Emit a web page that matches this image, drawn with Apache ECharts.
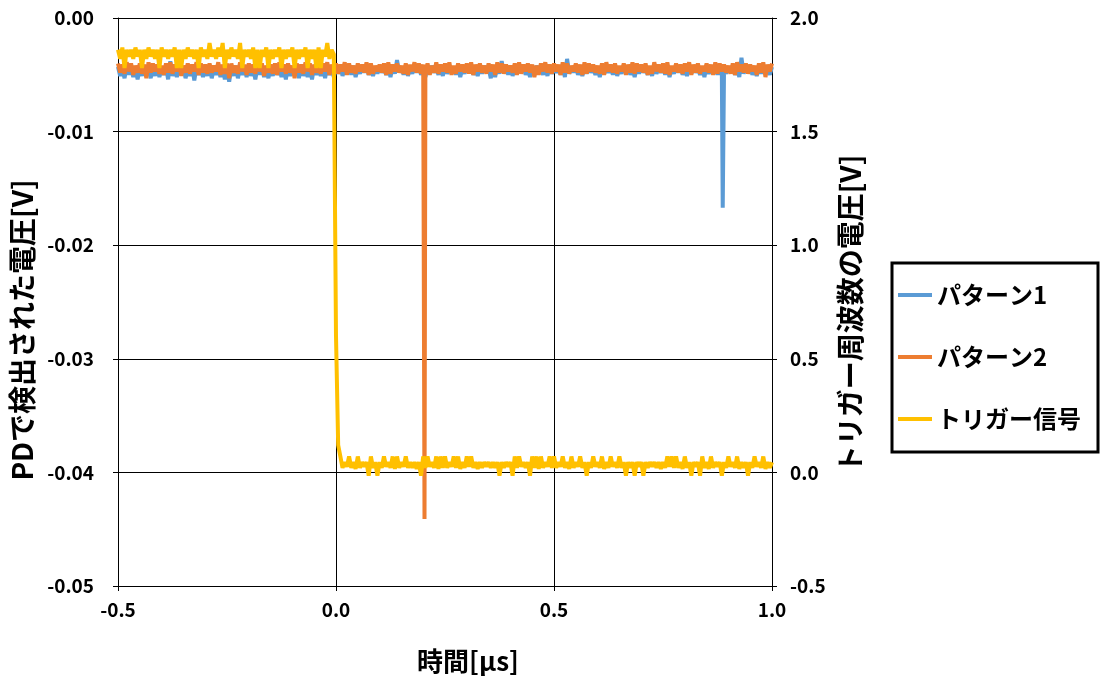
<!DOCTYPE html>
<html>
<head>
<meta charset="utf-8">
<script src="https://cdn.jsdelivr.net/npm/echarts@6/dist/echarts.min.js"></script>
<style>
html,body{margin:0;padding:0;background:#fff;}
#chart{width:1100px;height:682px;}
</style>
</head>
<body>
<div id="chart"></div>
<script>
// ---- data (time in µs) ----
// samples on the 0.01 µs grid (upper edge of the noise band)
const times = [
-0.50,-0.49,-0.48,-0.47,-0.46,-0.45,-0.44,-0.43,-0.42,-0.41,
-0.40,-0.39,-0.38,-0.37,-0.36,-0.35,-0.34,-0.33,-0.32,-0.31,
-0.30,-0.29,-0.28,-0.27,-0.26,-0.25,-0.24,-0.23,-0.22,-0.21,
-0.20,-0.19,-0.18,-0.17,-0.16,-0.15,-0.14,-0.13,-0.12,-0.11,
-0.10,-0.09,-0.08,-0.07,-0.06,-0.05,-0.04,-0.03,-0.02,-0.01,
0.00,0.01,0.02,0.03,0.04,0.05,0.06,0.07,0.08,0.09,
0.10,0.11,0.12,0.13,0.14,0.15,0.16,0.17,0.18,0.19,
0.20,0.21,0.22,0.23,0.24,0.25,0.26,0.27,0.28,0.29,
0.30,0.31,0.32,0.33,0.34,0.35,0.36,0.37,0.38,0.39,
0.40,0.41,0.42,0.43,0.44,0.45,0.46,0.47,0.48,0.49,
0.50,0.51,0.52,0.53,0.54,0.55,0.56,0.57,0.58,0.59,
0.60,0.61,0.62,0.63,0.64,0.65,0.66,0.67,0.68,0.69,
0.70,0.71,0.72,0.73,0.74,0.75,0.76,0.77,0.78,0.79,
0.80,0.81,0.82,0.83,0.84,0.85,0.86,0.87,0.88,0.89,
0.90,0.91,0.92,0.93,0.94,0.95,0.96,0.97,0.98,0.99,
1.00];
// samples half-way between them (lower edge of the noise band)
const timesMid = [
-0.495,-0.485,-0.475,-0.465,-0.455,-0.445,-0.435,-0.425,-0.415,-0.405,
-0.395,-0.385,-0.375,-0.365,-0.355,-0.345,-0.335,-0.325,-0.315,-0.305,
-0.295,-0.285,-0.275,-0.265,-0.255,-0.245,-0.235,-0.225,-0.215,-0.205,
-0.195,-0.185,-0.175,-0.165,-0.155,-0.145,-0.135,-0.125,-0.115,-0.105,
-0.095,-0.085,-0.075,-0.065,-0.055,-0.045,-0.035,-0.025,-0.015,-0.005,
0.005,0.015,0.025,0.035,0.045,0.055,0.065,0.075,0.085,0.095,
0.105,0.115,0.125,0.135,0.145,0.155,0.165,0.175,0.185,0.195,
0.205,0.215,0.225,0.235,0.245,0.255,0.265,0.275,0.285,0.295,
0.305,0.315,0.325,0.335,0.345,0.355,0.365,0.375,0.385,0.395,
0.405,0.415,0.425,0.435,0.445,0.455,0.465,0.475,0.485,0.495,
0.505,0.515,0.525,0.535,0.545,0.555,0.565,0.575,0.585,0.595,
0.605,0.615,0.625,0.635,0.645,0.655,0.665,0.675,0.685,0.695,
0.705,0.715,0.725,0.735,0.745,0.755,0.765,0.775,0.785,0.795,
0.805,0.815,0.825,0.835,0.845,0.855,0.865,0.875,0.885,0.895,
0.905,0.915,0.925,0.935,0.945,0.955,0.965,0.975,0.985,0.995];

// パターン1 (left axis, V)
const pattern1 = [
-0.0043,-0.0044,-0.0042,-0.0043,-0.0044,-0.0043,-0.0042,-0.0044,-0.0043,-0.0042,
-0.0044,-0.0043,-0.0038,-0.0044,-0.0042,-0.0043,-0.0044,-0.0042,-0.0043,-0.0044,
-0.0043,-0.0042,-0.0044,-0.0043,-0.0042,-0.0044,-0.0043,-0.0042,-0.0044,-0.0043,
-0.0042,-0.0044,-0.0043,-0.0042,-0.0044,-0.0043,-0.0042,-0.0044,-0.0043,-0.0042,
-0.0044,-0.0043,-0.0042,-0.0044,-0.0043,-0.0042,-0.0044,-0.0043,-0.0042,-0.0044,
-0.0043,-0.0042,-0.0044,-0.0043,-0.0042,-0.0044,-0.0043,-0.0042,-0.0044,-0.0043,
-0.0042,-0.0044,-0.0043,-0.0042,-0.0037,-0.0043,-0.0042,-0.0044,-0.0043,-0.0042,
-0.0044,-0.0043,-0.0042,-0.0044,-0.0043,-0.0042,-0.0044,-0.0043,-0.0042,-0.0044,
-0.0043,-0.0042,-0.0044,-0.0043,-0.0042,-0.0044,-0.0043,-0.0042,-0.0038,-0.0043,
-0.0042,-0.0044,-0.0043,-0.0042,-0.0044,-0.0043,-0.0042,-0.0044,-0.0043,-0.0042,
-0.0044,-0.0043,-0.0042,-0.0036,-0.0043,-0.0042,-0.0044,-0.0043,-0.0042,-0.0044,
-0.0043,-0.0042,-0.0044,-0.0043,-0.0042,-0.0044,-0.0043,-0.0042,-0.0044,-0.0043,
-0.0042,-0.0044,-0.0043,-0.0042,-0.0044,-0.0043,-0.0042,-0.0044,-0.0043,-0.0042,
-0.0044,-0.0043,-0.0042,-0.0044,-0.0043,-0.0042,-0.0044,-0.0043,-0.0042,-0.0044,
-0.0043,-0.0042,-0.0044,-0.0035,-0.0043,-0.0042,-0.0044,-0.0043,-0.0042,-0.0044,
-0.0043];
const pattern1Mid = [
-0.0051,-0.0053,-0.0050,-0.0052,-0.0054,-0.0051,-0.0050,-0.0053,-0.0051,-0.0052,
-0.0050,-0.0054,-0.0051,-0.0052,-0.0050,-0.0053,-0.0051,-0.0055,-0.0050,-0.0052,
-0.0051,-0.0053,-0.0050,-0.0052,-0.0054,-0.0056,-0.0051,-0.0053,-0.0050,-0.0052,
-0.0051,-0.0054,-0.0050,-0.0052,-0.0053,-0.0051,-0.0050,-0.0052,-0.0054,-0.0051,
-0.0050,-0.0053,-0.0051,-0.0052,-0.0054,-0.0050,-0.0051,-0.0053,-0.0050,-0.0052,
-0.0049,-0.0051,-0.0048,-0.0050,-0.0052,-0.0049,-0.0048,-0.0050,-0.0051,-0.0049,
-0.0048,-0.0050,-0.0052,-0.0049,-0.0048,-0.0050,-0.0051,-0.0049,-0.0048,-0.0050,
-0.0052,-0.0049,-0.0048,-0.0050,-0.0051,-0.0049,-0.0048,-0.0050,-0.0052,-0.0049,
-0.0048,-0.0050,-0.0051,-0.0049,-0.0048,-0.0053,-0.0052,-0.0049,-0.0048,-0.0050,
-0.0051,-0.0049,-0.0048,-0.0050,-0.0052,-0.0049,-0.0048,-0.0050,-0.0051,-0.0049,
-0.0048,-0.0050,-0.0052,-0.0049,-0.0048,-0.0050,-0.0051,-0.0049,-0.0048,-0.0050,
-0.0052,-0.0049,-0.0048,-0.0050,-0.0051,-0.0049,-0.0048,-0.0050,-0.0052,-0.0049,
-0.0048,-0.0050,-0.0051,-0.0049,-0.0048,-0.0050,-0.0052,-0.0049,-0.0048,-0.0050,
-0.0051,-0.0049,-0.0048,-0.0050,-0.0052,-0.0049,-0.0048,-0.0050,-0.0051,-0.0049,
-0.0048,-0.0050,-0.0052,-0.0049,-0.0048,-0.0050,-0.0051,-0.0049,-0.0048,-0.0050];
const pattern1DipTimes = [0.887];
const pattern1DipValues = [-0.0167];

// パターン2 (left axis, V)
const pattern2 = [
-0.0040,-0.0041,-0.0039,-0.0040,-0.0042,-0.0040,-0.0041,-0.0039,-0.0040,-0.0041,
-0.0042,-0.0040,-0.0039,-0.0041,-0.0040,-0.0042,-0.0040,-0.0041,-0.0039,-0.0040,
-0.0041,-0.0040,-0.0042,-0.0039,-0.0041,-0.0040,-0.0040,-0.0042,-0.0039,-0.0041,
-0.0040,-0.0041,-0.0039,-0.0040,-0.0042,-0.0041,-0.0040,-0.0039,-0.0041,-0.0040,
-0.0042,-0.0040,-0.0041,-0.0039,-0.0040,-0.0041,-0.0042,-0.0040,-0.0039,-0.0041,
-0.0040,-0.0041,-0.0039,-0.0040,-0.0042,-0.0040,-0.0041,-0.0039,-0.0040,-0.0042,
-0.0041,-0.0040,-0.0039,-0.0041,-0.0040,-0.0042,-0.0040,-0.0041,-0.0039,-0.0040,
-0.0041,-0.0040,-0.0042,-0.0039,-0.0041,-0.0040,-0.0039,-0.0042,-0.0040,-0.0041,
-0.0040,-0.0039,-0.0041,-0.0040,-0.0042,-0.0040,-0.0041,-0.0039,-0.0040,-0.0041,
-0.0042,-0.0040,-0.0039,-0.0041,-0.0040,-0.0041,-0.0042,-0.0040,-0.0039,-0.0041,
-0.0040,-0.0041,-0.0039,-0.0040,-0.0042,-0.0040,-0.0041,-0.0039,-0.0040,-0.0041,
-0.0042,-0.0040,-0.0039,-0.0041,-0.0040,-0.0042,-0.0040,-0.0041,-0.0039,-0.0040,
-0.0041,-0.0040,-0.0042,-0.0039,-0.0041,-0.0040,-0.0039,-0.0042,-0.0040,-0.0041,
-0.0040,-0.0039,-0.0041,-0.0040,-0.0042,-0.0040,-0.0041,-0.0039,-0.0040,-0.0041,
-0.0042,-0.0040,-0.0039,-0.0041,-0.0040,-0.0041,-0.0042,-0.0040,-0.0039,-0.0041,
-0.0040];
const pattern2Mid = [
-0.0048,-0.0049,-0.0047,-0.0050,-0.0048,-0.0049,-0.0053,-0.0048,-0.0047,-0.0049,
-0.0050,-0.0048,-0.0049,-0.0047,-0.0051,-0.0048,-0.0049,-0.0047,-0.0050,-0.0048,
-0.0049,-0.0048,-0.0047,-0.0050,-0.0049,-0.0053,-0.0048,-0.0049,-0.0047,-0.0050,
-0.0048,-0.0049,-0.0047,-0.0051,-0.0048,-0.0049,-0.0050,-0.0047,-0.0049,-0.0048,
-0.0053,-0.0048,-0.0049,-0.0047,-0.0050,-0.0048,-0.0049,-0.0047,-0.0050,-0.0048,
-0.0049,-0.0047,-0.0050,-0.0048,-0.0049,-0.0047,-0.0048,-0.0050,-0.0049,-0.0047,
-0.0048,-0.0050,-0.0049,-0.0047,-0.0048,-0.0049,-0.0050,-0.0047,-0.0048,-0.0049,
-0.0047,-0.0050,-0.0048,-0.0049,-0.0047,-0.0048,-0.0050,-0.0049,-0.0047,-0.0048,
-0.0049,-0.0050,-0.0047,-0.0048,-0.0049,-0.0047,-0.0050,-0.0048,-0.0049,-0.0047,
-0.0048,-0.0050,-0.0049,-0.0047,-0.0048,-0.0052,-0.0050,-0.0047,-0.0048,-0.0049,
-0.0047,-0.0050,-0.0048,-0.0049,-0.0047,-0.0048,-0.0050,-0.0049,-0.0047,-0.0048,
-0.0049,-0.0050,-0.0047,-0.0048,-0.0049,-0.0047,-0.0050,-0.0048,-0.0049,-0.0047,
-0.0048,-0.0050,-0.0049,-0.0047,-0.0048,-0.0049,-0.0050,-0.0047,-0.0048,-0.0049,
-0.0047,-0.0050,-0.0048,-0.0049,-0.0047,-0.0048,-0.0050,-0.0049,-0.0047,-0.0048,
-0.0049,-0.0050,-0.0047,-0.0048,-0.0049,-0.0047,-0.0050,-0.0048,-0.0052,-0.0047];
const pattern2DipTimes = [0.203];
const pattern2DipValues = [-0.0441];

// トリガー信号 (right axis, V)
const trigger = [
1.86,1.87,1.86,1.86,1.87,1.86,1.86,1.87,1.86,1.86,
1.87,1.86,1.86,1.87,1.86,1.86,1.87,1.86,1.86,1.87,
1.86,1.89,1.86,1.87,1.89,1.86,1.87,1.86,1.89,1.86,
1.86,1.87,1.86,1.86,1.87,1.86,1.86,1.87,1.86,1.86,
1.87,1.86,1.86,1.87,1.86,1.86,1.87,1.86,1.89,1.86,
0.60,0.07,0.045,0.07,0.045,0.07,0.045,0.045,0.07,0.045,
0.045,0.07,0.045,0.07,0.07,0.045,0.07,0.045,0.045,0.045,
0.07,0.07,0.045,0.07,0.07,0.07,0.045,0.07,0.07,0.045,
0.07,0.07,0.045,0.045,0.045,0.045,0.045,0.045,0.045,0.045,
0.045,0.07,0.07,0.045,0.045,0.07,0.07,0.07,0.045,0.07,
0.07,0.045,0.07,0.045,0.07,0.045,0.07,0.045,0.045,0.07,
0.045,0.07,0.045,0.07,0.045,0.07,0.045,0.045,0.045,0.045,
0.045,0.045,0.045,0.045,0.045,0.045,0.07,0.07,0.07,0.045,
0.07,0.045,0.045,0.045,0.07,0.045,0.07,0.045,0.045,0.045,
0.07,0.045,0.07,0.045,0.045,0.045,0.07,0.045,0.07,0.045,
0.045];
const triggerMid = [
1.82,1.78,1.83,1.82,1.83,1.78,1.82,1.83,1.82,1.78,
1.83,1.82,1.83,1.78,1.78,1.82,1.83,1.82,1.78,1.83,
1.82,1.83,1.82,1.83,1.78,1.82,1.83,1.82,1.78,1.83,
1.82,1.78,1.78,1.83,1.78,1.82,1.83,1.78,1.82,1.83,
1.78,1.82,1.83,1.78,1.82,1.78,1.78,1.83,1.82,1.84,
0.12,0.02,0.025,0.02,0.015,0.02,0.025,-0.015,0.02,-0.015,
0.02,0.025,0.02,0.015,0.02,0.025,0.02,0.02,0.015,-0.015,
0.02,0.025,0.02,0.015,0.02,0.02,0.025,0.02,0.015,0.02,
0.025,0.02,0.015,0.02,0.025,0.02,0.02,-0.015,0.02,0.025,
-0.015,0.02,0.025,0.02,-0.015,0.02,0.015,0.02,0.025,0.02,
0.02,0.025,0.02,0.015,0.02,0.025,0.02,-0.015,0.02,0.025,
0.02,0.015,0.02,0.025,0.02,0.02,-0.015,0.02,-0.015,0.025,
-0.015,0.02,0.025,0.02,0.015,0.02,0.025,0.02,0.02,0.015,
0.02,-0.015,0.025,-0.015,0.02,0.015,0.02,0.025,-0.015,0.02,
0.025,0.02,0.015,0.02,-0.015,0.02,0.025,0.02,0.015,0.02];

const seriesNames = ['パターン1', 'パターン2', 'トリガー信号'];
const xAxisTitle = '時間[μs]';
const leftAxisTitle = 'PDで検出された電圧[V]';
const rightAxisTitle = 'トリガー周波数の電圧[V]';

// join sample sets into one time-ordered [time, value] list
function merge(groups) {
  const pts = [];
  groups.forEach(([t, v]) => t.forEach((x, i) => pts.push([x, v[i]])));
  pts.sort((a, b) => a[0] - b[0]);
  return pts;
}

const FONT = '"Noto Sans CJK JP", "Noto Sans", sans-serif';
const chart = echarts.init(document.getElementById('chart'), null, {renderer: 'canvas'});

const labelStyle = {color: '#000', fontFamily: FONT, fontWeight: 'bold', fontSize: 19};
const titleBase = {color: '#000', fontFamily: FONT, fontWeight: 'bold'};

chart.setOption({
  animation: false,
  backgroundColor: '#fff',
  grid: {left: 118, right: 328, top: 18, bottom: 96},
  legend: {
    orient: 'vertical',
    left: 892, top: 263,
    data: seriesNames,
    icon: 'rect',
    itemWidth: 34, itemHeight: 4, itemGap: 38,
    padding: [20, 17, 21, 6],
    borderColor: '#000', borderWidth: 3, borderRadius: 0,
    textStyle: {color: '#000', fontFamily: FONT, fontWeight: 'bold', fontSize: 24}
  },
  xAxis: {
    type: 'value', min: -0.5, max: 1.0, interval: 0.5,
    name: xAxisTitle, nameLocation: 'middle', nameGap: 62,
    nameTextStyle: Object.assign({fontSize: 26, padding: [0, 0, 0, 46]}, titleBase),
    axisLine: {onZero: false, lineStyle: {color: '#000', width: 1}},
    axisTick: {show: true, length: 5, lineStyle: {color: '#000'}},
    axisLabel: Object.assign({margin: 14, formatter: v => v.toFixed(1)}, labelStyle),
    splitLine: {show: true, lineStyle: {color: '#000', width: 1}}
  },
  yAxis: [{
    type: 'value', min: -0.05, max: 0, interval: 0.01, position: 'left',
    name: leftAxisTitle, nameLocation: 'middle', nameGap: 74, nameRotate: 90,
    nameTextStyle: Object.assign({fontSize: 28, padding: [0, 56, 0, 0]}, titleBase),
    axisLine: {show: true, onZero: false, lineStyle: {color: '#000', width: 1}},
    axisTick: {show: true, length: 5, lineStyle: {color: '#000'}},
    axisLabel: Object.assign({margin: 24, formatter: v => v.toFixed(2)}, labelStyle),
    splitLine: {show: true, lineStyle: {color: '#000', width: 1}}
  }, {
    type: 'value', min: -0.5, max: 2.0, interval: 0.5, position: 'right',
    name: rightAxisTitle, nameLocation: 'middle', nameGap: 64, nameRotate: 90,
    nameTextStyle: Object.assign({fontSize: 28, padding: [0, 24, 0, 0]}, titleBase),
    axisLine: {show: true, onZero: false, lineStyle: {color: '#000', width: 1}},
    axisTick: {show: true, length: 5, lineStyle: {color: '#000'}},
    axisLabel: Object.assign({margin: 18, formatter: v => v.toFixed(1)}, labelStyle),
    splitLine: {show: false}
  }],
  series: [{
    name: seriesNames[0], type: 'line', yAxisIndex: 0,
    data: merge([[times, pattern1], [timesMid, pattern1Mid], [pattern1DipTimes, pattern1DipValues]]),
    showSymbol: false, symbol: 'none',
    lineStyle: {color: '#5B9BD5', width: 4}, itemStyle: {color: '#5B9BD5'}
  }, {
    name: seriesNames[1], type: 'line', yAxisIndex: 0,
    data: merge([[times, pattern2], [timesMid, pattern2Mid], [pattern2DipTimes, pattern2DipValues]]),
    showSymbol: false, symbol: 'none',
    lineStyle: {color: '#ED7D31', width: 4}, itemStyle: {color: '#ED7D31'}
  }, {
    name: seriesNames[2], type: 'line', yAxisIndex: 1,
    data: merge([[times, trigger], [timesMid, triggerMid]]),
    showSymbol: false, symbol: 'none',
    lineStyle: {color: '#FFC000', width: 4}, itemStyle: {color: '#FFC000'}
  }]
});
</script>
</body>
</html>
